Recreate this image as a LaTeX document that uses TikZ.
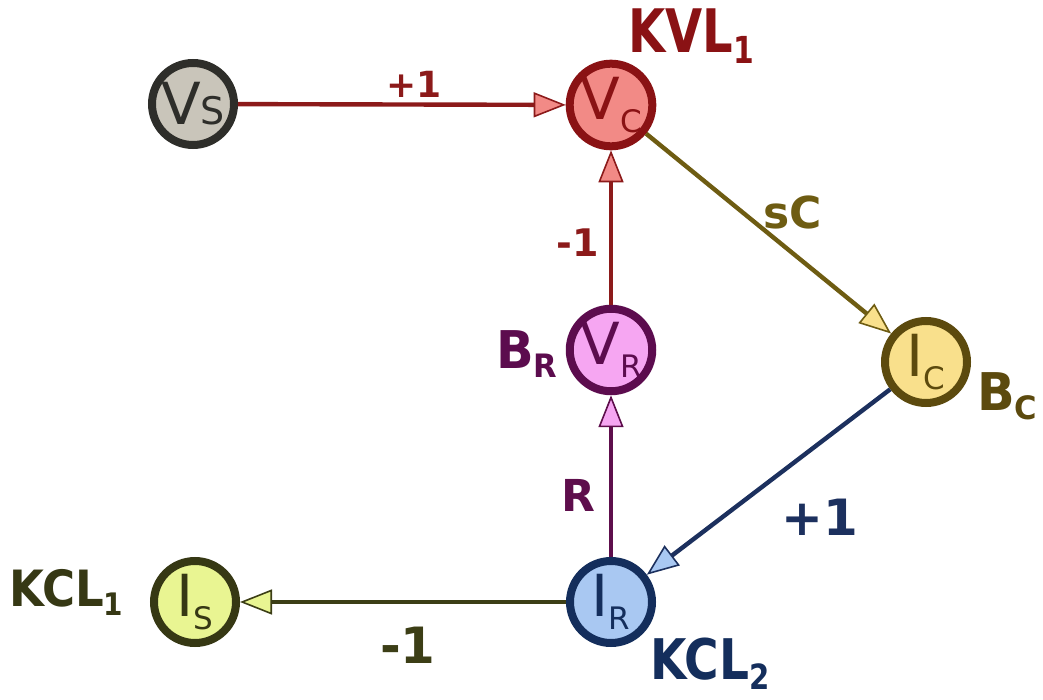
\documentclass[tikz,border=0pt]{standalone}
\usepackage{fontspec}
\setmainfont{DejaVu Sans}
\usetikzlibrary{arrows.meta}
\definecolor{vsfill}{HTML}{C9C5BA}\definecolor{vsdraw}{HTML}{2E2E2A}
\definecolor{vcfill}{HTML}{F28A86}\definecolor{vcdraw}{HTML}{8A1214}
\definecolor{icfill}{HTML}{F9E08C}\definecolor{icdraw}{HTML}{5C4A0E}
\definecolor{vrfill}{HTML}{F6A6F2}\definecolor{vrdraw}{HTML}{5C0C4E}
\definecolor{irfill}{HTML}{A9C8F2}\definecolor{irdraw}{HTML}{142E5C}
\definecolor{isfill}{HTML}{E9F592}\definecolor{isdraw}{HTML}{363814}
\definecolor{edgered}{HTML}{8C1A1A}
\definecolor{edgeolive}{HTML}{6E5C12}
\definecolor{edgenavy}{HTML}{1C305E}
\definecolor{edgepurple}{HTML}{5E0E4C}
\definecolor{edgedark}{HTML}{3C3E16}
\newcommand{\nlab}[3][0pt]{{\fontsize{58}{58}\selectfont #2}\raisebox{#1}{\fontsize{31}{31}\selectfont #3}}
\newcommand{\blab}[4][0.8]{\scalebox{#1}[1]{\fontsize{#2}{#2}\selectfont\bfseries #3\raisebox{-0.18em}{\fontsize{0.62\dimexpr#2pt}{1}\selectfont #4}}}
\tikzset{
  vnode/.style={circle, minimum size=82pt, inner sep=0pt, line width=8pt},
  edge/.style={line width=4.4pt},
  tipf/.style={-{Triangle[length=32pt,width=25pt,line width=1.6pt,fill=#1]}},
  elab/.style={font=\fontsize{#1}{#1}\selectfont\bfseries, inner sep=0pt}
}
\begin{document}
\begin{tikzpicture}[x=1pt,y=-1pt]
\useasboundingbox (0,0) rectangle (1043,700);
\node[vnode, fill=vsfill, draw=vsdraw, text=vsdraw] (vs) at (193,104) {\nlab{V}{\fontsize{38}{38}\selectfont S}};
\node[vnode, fill=vcfill, draw=vcdraw, text=vcdraw] (vc) at (611,105) {\nlab[-13pt]{V}{C}};
\node[vnode, fill=icfill, draw=icdraw, text=icdraw] (ic) at (926,362) {\nlab[-13pt]{I}{C}};
\node[vnode, fill=vrfill, draw=vrdraw, text=vrdraw] (vr) at (611,350) {\nlab[-13pt]{V}{R}};
\node[vnode, fill=irfill, draw=irdraw, text=irdraw] (ir) at (611,602) {\nlab[-13pt]{I}{R}};
\node[vnode, fill=isfill, draw=isdraw, text=isdraw] (is) at (195,602) {\nlab[-13pt]{I}{S}};

\draw[edge, draw=edgered, tipf=vcfill] (vs) -- (vc);
\draw[edge, draw=edgeolive, tipf=icfill] (vc) -- (ic);
\draw[edge, draw=edgenavy, tipf=irfill] (ic) -- (ir);
\draw[edge, draw=edgepurple, tipf=vrfill] (ir) -- (vr);
\draw[edge, draw=edgered, tipf=vcfill] (vr) -- (vc);
\draw[edge, draw=edgedark, tipf=isfill] (ir) -- (is);

\node[elab=36, text=edgered] (l1) at (414,84) {+1};
\node[elab=44, text=edgeolive] (l2) at (793,212) {sC};
\node[elab=38, text=edgered] (l3) at (578,243) {-1};
\node[elab=44, text=edgepurple] (l4) at (578,495) {R};
\node[elab=50, text=edgenavy] (l5) at (820,517) {+1};
\node[elab=50, text=edgedark] (l6) at (408,645) {-1};

\node[anchor=base west, inner sep=0pt, text=vcdraw] (kvl) at (628,53) {\blab{60}{KVL}{1}};
\node[anchor=base west, inner sep=0pt, text=vrdraw] (br) at (496,368) {\blab[0.95]{52}{B}{R}};
\node[anchor=base west, inner sep=0pt, text=icdraw] (bc) at (977,410) {\blab[0.95]{52}{B}{C}};
\node[anchor=base west, inner sep=0pt, text=isdraw] (kcl1) at (9,606) {\blab[0.9]{50}{KCL}{1}};
\node[anchor=base west, inner sep=0pt, text=irdraw] (kcl2) at (650,679) {\blab[0.84]{56}{KCL}{2}};
\end{tikzpicture}
\end{document}
